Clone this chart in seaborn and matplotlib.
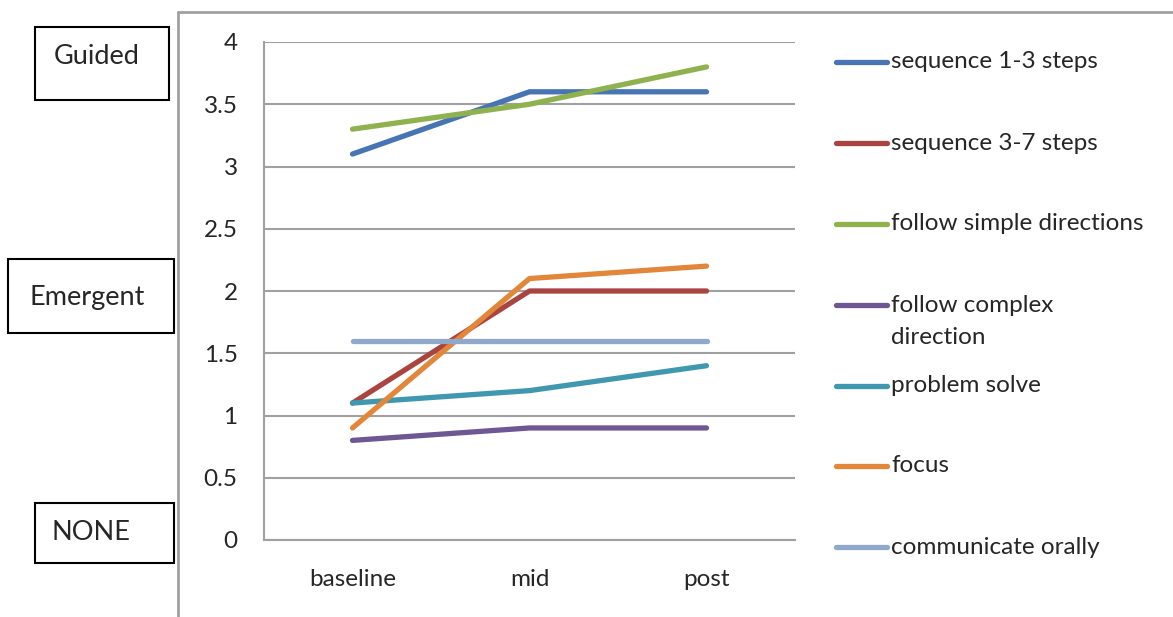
import pandas as pd
import matplotlib.pyplot as plt
import seaborn as sns
from matplotlib.lines import Line2D
from matplotlib.patches import Rectangle

stages = ['baseline', 'mid', 'post']
skills = ['sequence 1-3 steps', 'sequence 3-7 steps', 'follow simple directions',
          'follow complex\ndirection', 'problem solve', 'focus', 'communicate orally']
seq_1_3 = [3.1, 3.6, 3.6]
seq_3_7 = [1.1, 2.0, 2.0]
follow_simple = [3.3, 3.5, 3.8]
follow_complex = [0.8, 0.9, 0.9]
problem_solve = [1.1, 1.2, 1.4]
focus = [0.9, 2.1, 2.2]
communicate = [1.6, 1.6, 1.6]
yticks = [0, 0.5, 1, 1.5, 2, 2.5, 3, 3.5, 4]
ytick_labels = ['0', '0.5', '1', '1.5', '2', '2.5', '3', '3.5', '4']
levels = ['Guided', 'Emergent', 'NONE']

colors = ['#4774B2', '#AA4441', '#8FB24F', '#6F5794', '#3F98B0', '#E2873A', '#8FA8CC']

series = [seq_1_3, seq_3_7, follow_simple, follow_complex, problem_solve, focus, communicate]
df = pd.DataFrame([(sk, st, v) for sk, vals in zip(skills, series)
                   for st, v in zip(stages, vals)],
                  columns=['skill', 'stage', 'score'])

sns.set_style('white')
plt.rcParams['font.family'] = ['Lato', 'DejaVu Sans']

W, H = 1173, 617
fig = plt.figure(figsize=(W / 100, H / 100), dpi=100)
ax = fig.add_axes([264 / W, 1 - 540 / H, (795 - 264) / W, (540 - 42) / H])

sns.lineplot(data=df, x='stage', y='score', hue='skill', hue_order=skills,
             palette=colors, linewidth=3.8, legend=False, ax=ax,
             solid_capstyle='round')

grey = '#A0A0A0'
ax.set_xlim(-0.5, 2.5)
ax.set_ylim(0, 4)
ax.set_yticks(yticks)
ax.set_yticklabels(ytick_labels, fontsize=17.5)
ax.set_xticks([-0.5, 0.5, 1.5, 2.5])
ax.set_xticklabels([])
ax.set_xticks(range(len(stages)), minor=True)
ax.set_xticklabels(stages, minor=True, fontsize=17.5)
ax.tick_params(axis='x', which='minor', length=0, pad=21)
ax.tick_params(axis='x', which='major', length=6, width=1.5, color=grey, direction='out')
ax.tick_params(axis='y', length=6, width=1.5, color=grey, direction='out', pad=13)
ax.set_xlabel('')
ax.set_ylabel('')
ax.yaxis.grid(True, color=grey, lw=1.5)
ax.set_axisbelow(True)
for side in ['top', 'right']:
    ax.spines[side].set_visible(False)
for side in ['left', 'bottom']:
    ax.spines[side].set_color(grey)
    ax.spines[side].set_linewidth(1.5)

# outer frame of the original slide
fig.add_artist(Line2D([178 / W, 178 / W], [1 - 12 / H, 0], color=grey, lw=2))
fig.add_artist(Line2D([178 / W, 1], [1 - 12 / H, 1 - 12 / H], color=grey, lw=2))

# legend drawn by hand to match the spacing
leg_y = [62, 143, 224, 305, 386, 466, 547]
for label, c, y in zip(skills, colors, leg_y):
    fig.add_artist(Line2D([836 / W, 887 / W], [1 - y / H, 1 - y / H], color=c,
                          lw=3.8, solid_capstyle='round'))
    for k, line in enumerate(label.split('\n')):
        fig.text(891 / W, 1 - (y + 32 * k) / H, line, fontsize=17.5, va='center', ha='left')

# level boxes on the left
boxes = [(35, 27, 169, 100), (8, 259, 174, 333), (35, 503, 174, 563)]
for name, (x0, y0, x1, y1) in zip(levels, boxes):
    fig.add_artist(Rectangle((x0 / W, 1 - y1 / H), (x1 - x0) / W, (y1 - y0) / H,
                             fill=False, ec='black', lw=1.5))
text_pos = [(97, 57), (87, 297), (91, 533)]
for name, (tx, ty) in zip(levels, text_pos):
    fig.text(tx / W, 1 - ty / H, name, fontsize=19.5, ha='center', va='center')

fig.savefig('out.png', dpi=100)
